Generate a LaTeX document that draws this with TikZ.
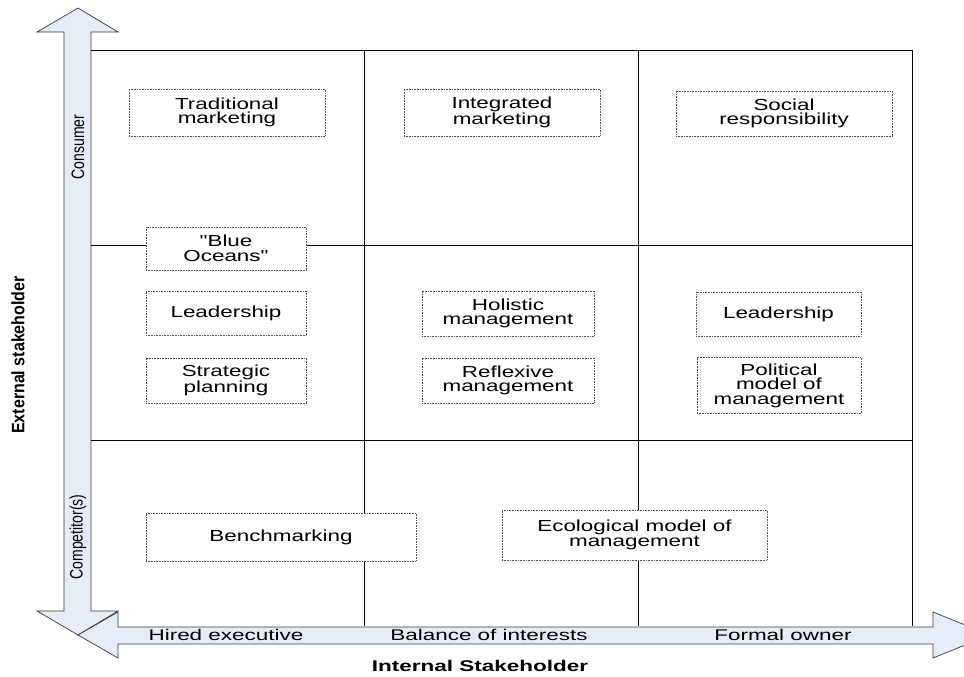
\documentclass[tikz,border=0pt]{standalone}
\usepackage{fontspec}
\setmainfont{Liberation Sans}
\newfontfamily\cellfont[FakeStretch=1.4]{Liberation Sans}
\newfontfamily\axisfont[FakeStretch=1.45]{Liberation Sans}
\newfontfamily\sidefont[FakeStretch=0.78]{Liberation Sans}
\newfontfamily\sideboldfont[FakeStretch=0.89]{Liberation Sans}
\usetikzlibrary{positioning}
\definecolor{stakeFill}{HTML}{E6ECF6}
\definecolor{stakeLine}{HTML}{3A3A3A}
\definecolor{stakeDot}{HTML}{505050}

\begin{document}
\begin{tikzpicture}[x=1pt,y=-1pt,
  cell/.style={draw=stakeDot,densely dotted,line width=0.6pt,fill=white,
               align=center,inner sep=0pt,
               font=\cellfont\fontsize{16}{14.5}\selectfont},
  gridline/.style={line width=0.8pt,draw=black},
  axisarrow/.style={draw=stakeLine,fill=stakeFill,line width=0.7pt,line join=miter},
  axislabel/.style={inner sep=0pt,font=\axisfont\fontsize{15.5}{16}\selectfont},
  sidelabel/.style={inner sep=0pt,rotate=90,font=\sidefont\fontsize{18}{18}\selectfont}]
  \clip (0,0) rectangle (964,677);

  % axes
  \draw[axisarrow] (64,32) -- (37,32) -- (78,8) -- (118,32) -- (91,32) -- (91,611)
        -- (118,611) -- (78,635) -- (37,611) -- (64,611) -- cycle;
  \draw[axisarrow] (118,627) -- (118,612) -- (78,635) -- (118,658) -- (118,644)
        -- (933,644) -- (933,658) -- (990,635) -- (933,612) -- (933,627) -- cycle;

  % grid
  \draw[gridline] (91,50) -- (912,50) -- (912,626);
  \draw[gridline] (364,50) -- (364,626);
  \draw[gridline] (638,50) -- (638,626);
  \draw[gridline] (91,245) -- (912,245);
  \draw[gridline] (91,440) -- (912,440);

  % cells
  \node[cell,minimum width=196pt,minimum height=47pt] (tradMkt) at (227,112.5) {Traditional\\marketing};
  \node[cell,minimum width=196pt,minimum height=47pt] (integMkt) at (502,112.5) {Integrated\\marketing};
  \node[cell,minimum width=216pt,minimum height=45pt] (socialResp) at (784,113.5) {Social\\responsibility};
  \node[cell,minimum width=160pt,minimum height=43pt] (blueOcean) at (226,248.5) {"Blue\\Oceans"};
  \node[cell,minimum width=160pt,minimum height=44pt] (leadLeft) at (226,313) {Leadership};
  \node[cell,minimum width=160pt,minimum height=45pt] (stratPlan) at (226,380.5) {Strategic\\planning};
  \node[cell,minimum width=172pt,minimum height=45pt] (holisMgmt) at (508,313.5) {Holistic\\management};
  \node[cell,minimum width=172pt,minimum height=45pt] (reflexMgmt) at (508,380.5) {Reflexive\\management};
  \node[cell,minimum width=165pt,minimum height=44pt] (leadRight) at (778.5,314) {Leadership};
  \node[cell,minimum width=164pt,minimum height=56pt] (politMgmt) at (779,385.5) {Political\\model of\\management};
  \node[cell,minimum width=270pt,minimum height=48pt] (benchMark) at (281,537) {Benchmarking};
  \node[cell,minimum width=265pt,minimum height=50pt] (ecolMgmt) at (634.5,535) {Ecological model of\\management};

  % axis labels
  \node[sidelabel] (consumer) at (78,147) {Consumer};
  \node[sidelabel] (competitor) at (78,537) {Competitor(s)};
  \node[sidelabel,font=\sideboldfont\bfseries\fontsize{18}{18}\selectfont] (extStake) at (18,355) {External stakeholder};
  \node[axislabel] (hiredExec) at (226,635) {Hired executive};
  \node[axislabel] (balanceInt) at (489,635) {Balance of interests};
  \node[axislabel] (formalOwner) at (783,635) {Formal owner};
  \node[axislabel,font=\axisfont\bfseries\fontsize{15.5}{16}\selectfont] (intStake) at (480,666) {Internal Stakeholder};
\end{tikzpicture}
\end{document}
